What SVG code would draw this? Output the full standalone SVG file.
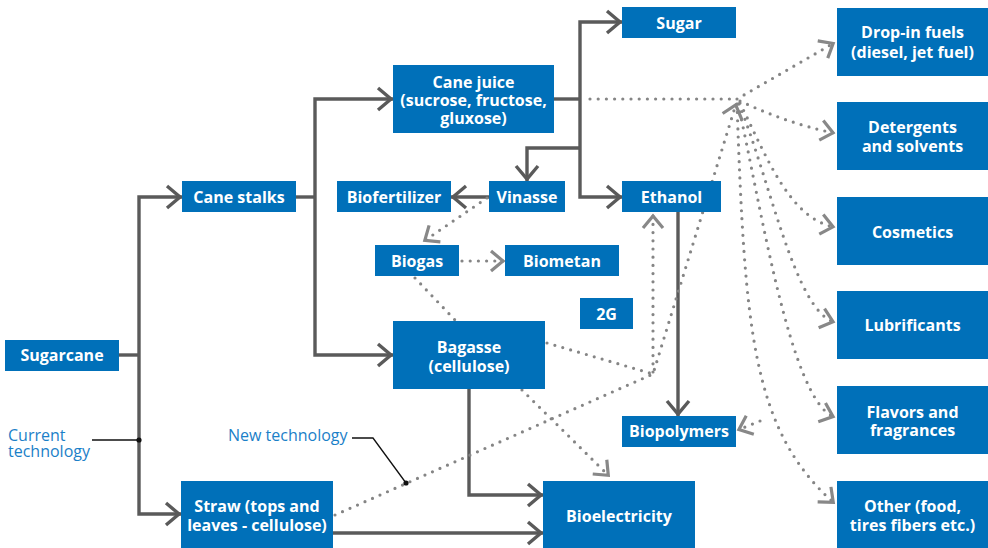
<svg xmlns="http://www.w3.org/2000/svg" width="988" height="548" viewBox="0 0 988 548">
<style>
.box{fill:#0070b9}
.t{font-family:"Open Sans","Liberation Sans",sans-serif;font-weight:bold;font-size:16px;fill:#fff;text-anchor:middle}
.lbl{font-family:"Open Sans","Liberation Sans",sans-serif;font-size:16px;fill:#1b80c8}
.s{fill:none;stroke:#5a5a5a;stroke-width:3.4;stroke-linejoin:miter}
.d{fill:none;stroke:#858585;stroke-width:3.2;stroke-linecap:round;stroke-dasharray:0 8.2}
.lead{fill:none;stroke:#111;stroke-width:1.3}
</style>
<defs>
<marker id="aS" markerUnits="userSpaceOnUse" orient="auto" refX="0" refY="0" markerWidth="40" markerHeight="40" viewBox="-20 -20 40 40" overflow="visible">
<path d="M-15,-11 L-2,0 L-15,11" fill="none" stroke="#5a5a5a" stroke-width="3.4"/>
</marker>
<marker id="aD" markerUnits="userSpaceOnUse" orient="auto" refX="0" refY="0" markerWidth="40" markerHeight="40" viewBox="-20 -20 40 40" overflow="visible">
<path d="M-13,-10 L-1,0 L-13,10" fill="none" stroke="#888" stroke-width="3.2"/>
</marker>
</defs>
<rect width="988" height="548" fill="#fff"/>

<g id="connectors">
<path class="s" d="M119,355 H139"/>
<path class="s" d="M139,355 V197 H182" marker-end="url(#aS)"/>
<path class="s" d="M139,355 V514 H181" marker-end="url(#aS)"/>
<path class="s" d="M296,197 H315"/>
<path class="s" d="M315,197 V99 H393" marker-end="url(#aS)"/>
<path class="s" d="M315,197 V355 H393" marker-end="url(#aS)"/>
<path class="s" d="M554,99 H580"/>
<path class="s" d="M580,99 V22 H622" marker-end="url(#aS)"/>
<path class="s" d="M580,99 V197 H622" marker-end="url(#aS)"/>
<path class="s" d="M580,148 H527 V181" marker-end="url(#aS)"/>
<path class="s" d="M489,197 H451" marker-end="url(#aS)"/>
<path class="s" d="M678,212 V416" marker-end="url(#aS)"/>
<path class="s" d="M469,389 V495 H543" marker-end="url(#aS)"/>
<path class="s" d="M333,533 H543" marker-end="url(#aS)"/>
<path class="d" d="M487,198 L424,241" marker-end="url(#aD)"/>
<path class="d" d="M462,261 L504,261" marker-end="url(#aD)"/>
<path class="d" d="M415,278 L455,320"/>
<path class="d" d="M522,390 L609,476" marker-end="url(#aD)"/>
<path class="d" d="M547,343 L653,374"/>
<path class="d" d="M335,515 L653,374 L736,104" marker-end="url(#aD)"/>
<path class="d" d="M653,372 L653,215" marker-end="url(#aD)"/>
<path class="d" d="M590,99 L737,99"/>
<path class="d" d="M737,99 L834,43" marker-end="url(#aD)"/>
<path class="d" d="M740,101 C770,115 800,126 834,133" marker-end="url(#aD)"/>
<path class="d" d="M740,103 C768,160 790,218 834,227" marker-end="url(#aD)"/>
<path class="d" d="M739,104 C770,180 795,310 834,322" marker-end="url(#aD)"/>
<path class="d" d="M738,104 C760,200 790,400 834,417" marker-end="url(#aD)"/>
<path class="d" d="M737,104 C745,330 752,430 834,503" marker-end="url(#aD)"/>
<path class="d" d="M760,421 L738,430" marker-end="url(#aD)"/>
<path class="lead" d="M92,440 H139"/>
<circle cx="139" cy="440" r="2.6" fill="#111"/>
<path class="lead" d="M352,438 H373 L406,483"/>
<circle cx="406" cy="483" r="2.6" fill="#111"/>
</g>

<g id="sugarcane"><rect class="box" x="5" y="340" width="114" height="31"/><text class="t" x="62" y="361">Sugarcane</text></g>
<g id="cane-stalks"><rect class="box" x="182" y="181" width="114" height="31"/><text class="t" x="239" y="202.5">Cane stalks</text></g>
<g id="cane-juice"><rect class="box" x="393" y="65" width="161" height="68"/><text class="t" x="473.5" y="87.5">Cane juice</text><text class="t" x="473.5" y="105.5">(sucrose, fructose,</text><text class="t" x="473.5" y="123.5">gluxose)</text></g>
<g id="sugar"><rect class="box" x="622" y="7" width="114" height="31"/><text class="t" x="679" y="28.5">Sugar</text></g>
<g id="ethanol"><rect class="box" x="622" y="181" width="99" height="31"/><text class="t" x="671.5" y="202.5">Ethanol</text></g>
<g id="vinasse"><rect class="box" x="489" y="181" width="76" height="31"/><text class="t" x="527" y="202.5">Vinasse</text></g>
<g id="biofertilizer"><rect class="box" x="337" y="181" width="114" height="31"/><text class="t" x="394" y="202.5">Biofertilizer</text></g>
<g id="biogas"><rect class="box" x="375" y="245" width="84" height="31"/><text class="t" x="417" y="266.5">Biogas</text></g>
<g id="biometan"><rect class="box" x="505" y="245" width="114" height="31"/><text class="t" x="562" y="266.5">Biometan</text></g>
<g id="g2"><rect class="box" x="580" y="298" width="53" height="31"/><text class="t" x="606.5" y="319.5">2G</text></g>
<g id="bagasse"><rect class="box" x="393" y="321" width="152" height="68"/><text class="t" x="469" y="352.5">Bagasse</text><text class="t" x="469" y="371.5">(cellulose)</text></g>
<g id="biopolymers"><rect class="box" x="622" y="416" width="114" height="31"/><text class="t" x="679" y="437">Biopolymers</text></g>
<g id="bioelectricity"><rect class="box" x="543" y="481" width="152" height="67"/><text class="t" x="619" y="521.5">Bioelectricity</text></g>
<g id="straw"><rect class="box" x="181" y="481" width="152" height="67"/><text class="t" x="257" y="511.5">Straw (tops and</text><text class="t" x="257" y="530.5">leaves - cellulose)</text></g>
<g id="drop-in"><rect class="box" x="837" y="8" width="151" height="68"/><text class="t" x="912.5" y="38">Drop-in fuels</text><text class="t" x="912.5" y="57.5">(diesel, jet fuel)</text></g>
<g id="detergents"><rect class="box" x="837" y="102" width="151" height="68"/><text class="t" x="912.5" y="133">Detergents</text><text class="t" x="912.5" y="151.5">and solvents</text></g>
<g id="cosmetics"><rect class="box" x="837" y="197" width="151" height="68"/><text class="t" x="912.5" y="237.5">Cosmetics</text></g>
<g id="lubrificants"><rect class="box" x="837" y="291" width="151" height="68"/><text class="t" x="912.5" y="331">Lubrificants</text></g>
<g id="flavors"><rect class="box" x="837" y="386" width="151" height="68"/><text class="t" x="912.5" y="417.5">Flavors and</text><text class="t" x="912.5" y="436">fragrances</text></g>
<g id="other"><rect class="box" x="837" y="481" width="151" height="67"/><text class="t" x="912.5" y="511.5">Other (food,</text><text class="t" x="912.5" y="530.5">tires fibers etc.)</text></g>

<g id="labels">
<text class="lbl" x="8" y="441">Current</text>
<text class="lbl" x="8" y="457">technology</text>
<text class="lbl" x="228" y="441">New technology</text>
</g>
</svg>
